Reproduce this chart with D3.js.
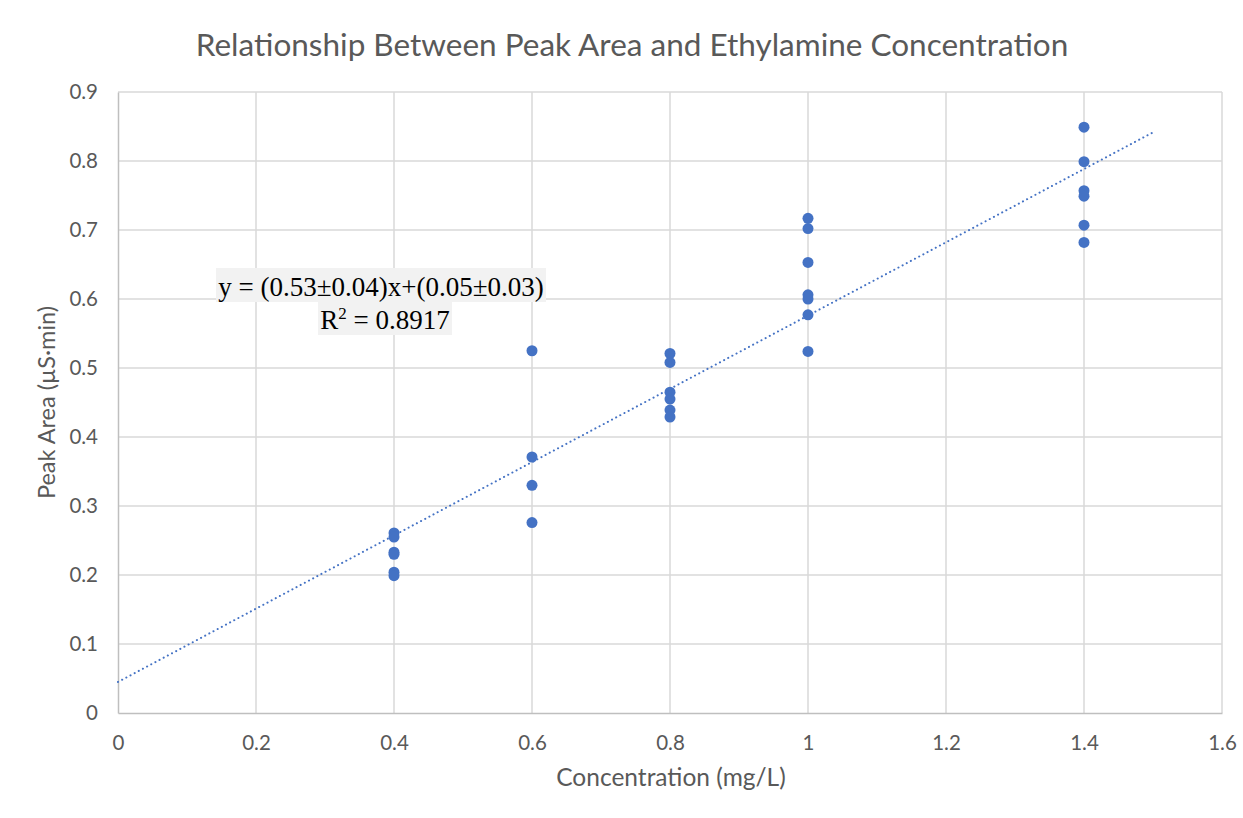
<!DOCTYPE html>
<html>
<head>
<meta charset="utf-8">
<script src="https://cdn.jsdelivr.net/npm/d3@7"></script>
<style>
  body { margin: 0; background: #fff; }
  .axis-label, .tick text, .title { font-family: Lato, "Open Sans", sans-serif; fill: #595959; }
</style>
</head>
<body>
<div id="chart"></div>
<script>
// concentration (mg/L) of each replicate
const concentration = [0.4, 0.4, 0.4, 0.4, 0.4, 0.4,
  0.6, 0.6, 0.6, 0.6,
  0.8, 0.8, 0.8, 0.8, 0.8, 0.8,
  1.0, 1.0, 1.0, 1.0, 1.0, 1.0, 1.0,
  1.4, 1.4, 1.4, 1.4, 1.4, 1.4];
// peak area (µS·min)
const peakArea = [0.261, 0.255, 0.233, 0.230, 0.204, 0.199,
  0.525, 0.371, 0.330, 0.276,
  0.521, 0.508, 0.465, 0.455, 0.439, 0.429,
  0.717, 0.702, 0.653, 0.606, 0.600, 0.577, 0.524,
  0.849, 0.799, 0.757, 0.749, 0.707, 0.682];
const xTicks = [0, 0.2, 0.4, 0.6, 0.8, 1, 1.2, 1.4, 1.6];
const yTicks = [0, 0.1, 0.2, 0.3, 0.4, 0.5, 0.6, 0.7, 0.8, 0.9];
// trendline as reported on the chart
const trendSlope = 0.531;
const trendIntercept = 0.045;
const trendRange = [0, 1.5];

const width = 1243;
const height = 818;

const data = concentration.map((c, i) => ({ x: c, y: peakArea[i] }));

const svg = d3.select("#chart").append("svg")
  .attr("width", width)
  .attr("height", height);

const xScale = d3.scaleLinear().domain([0, 1.6]).range([118, 1222]);
const yScale = d3.scaleLinear().domain([0, 0.9]).range([713, 92]);

// gridlines
svg.append("g")
  .selectAll("line")
  .data(xTicks.slice(1))
  .join("line")
  .attr("x1", d => xScale(d)).attr("x2", d => xScale(d))
  .attr("y1", yScale(0)).attr("y2", yScale(0.9))
  .attr("stroke", "#d9d9d9").attr("stroke-width", 1.5);
svg.append("g")
  .selectAll("line")
  .data(yTicks.slice(1))
  .join("line")
  .attr("x1", xScale(0)).attr("x2", xScale(1.6))
  .attr("y1", d => yScale(d)).attr("y2", d => yScale(d))
  .attr("stroke", "#d9d9d9").attr("stroke-width", 1.5);

// axes
const xAxis = d3.axisBottom(xScale).tickValues(xTicks).tickSize(0).tickPadding(22).tickFormat(d3.format("~g"));
const yAxis = d3.axisLeft(yScale).tickValues(yTicks).tickSize(0).tickPadding(20).tickFormat(d3.format("~g"));

svg.append("g")
  .attr("transform", `translate(0,${yScale(0)})`)
  .call(xAxis)
  .call(g => g.select(".domain").attr("stroke", "#bfbfbf").attr("stroke-width", 1.5))
  .selectAll("text").attr("font-size", 20.5);

svg.append("g")
  .attr("transform", `translate(${xScale(0)},0)`)
  .call(yAxis)
  .call(g => g.select(".domain").attr("stroke", "#bfbfbf").attr("stroke-width", 1.5))
  .selectAll("text").attr("font-size", 20.5);

// title and axis labels
svg.append("text")
  .attr("class", "title")
  .attr("x", 632).attr("y", 56)
  .attr("text-anchor", "middle")
  .attr("font-size", 31.5)
  .text("Relationship Between Peak Area and Ethylamine Concentration");

svg.append("text")
  .attr("class", "axis-label")
  .attr("x", 671).attr("y", 786)
  .attr("text-anchor", "middle")
  .attr("font-size", 24.5)
  .text("Concentration (mg/L)");

svg.append("text")
  .attr("class", "axis-label")
  .attr("transform", `translate(55,${yScale(0.45)}) rotate(-90)`)
  .attr("text-anchor", "middle")
  .attr("font-size", 23.5)
  .text("Peak Area (µS·min)");

// trendline
svg.append("line")
  .attr("x1", xScale(trendRange[0]))
  .attr("y1", yScale(trendIntercept + trendSlope * trendRange[0]))
  .attr("x2", xScale(trendRange[1]))
  .attr("y2", yScale(trendIntercept + trendSlope * trendRange[1]))
  .attr("stroke", "#4472c4")
  .attr("stroke-width", 2)
  .attr("stroke-linecap", "round")
  .attr("stroke-dasharray", "0.1 4.6");

// points
svg.append("g")
  .selectAll("circle")
  .data(data)
  .join("circle")
  .attr("cx", d => xScale(d.x))
  .attr("cy", d => yScale(d.y))
  .attr("r", 5.5)
  .style("fill", "#4472c4");

// equation label
const eq = svg.append("g").attr("font-family", "'Liberation Serif', 'Times New Roman', serif").attr("fill", "#000");
eq.append("rect").attr("x", 216).attr("y", 268).attr("width", 330).attr("height", 34).attr("fill", "#f2f2f2");
eq.append("rect").attr("x", 318).attr("y", 302).attr("width", 134).attr("height", 33).attr("fill", "#f2f2f2");
eq.append("text")
  .attr("x", 381).attr("y", 296)
  .attr("text-anchor", "middle")
  .attr("font-size", 27)
  .text("y = (0.53±0.04)x+(0.05±0.03)");
const r2 = eq.append("text")
  .attr("x", 385).attr("y", 329)
  .attr("text-anchor", "middle")
  .attr("font-size", 27);
r2.append("tspan").text("R");
r2.append("tspan").attr("font-size", 17).attr("dy", -10).text("2");
r2.append("tspan").attr("dy", 10).text(" = 0.8917");
</script>
</body>
</html>
